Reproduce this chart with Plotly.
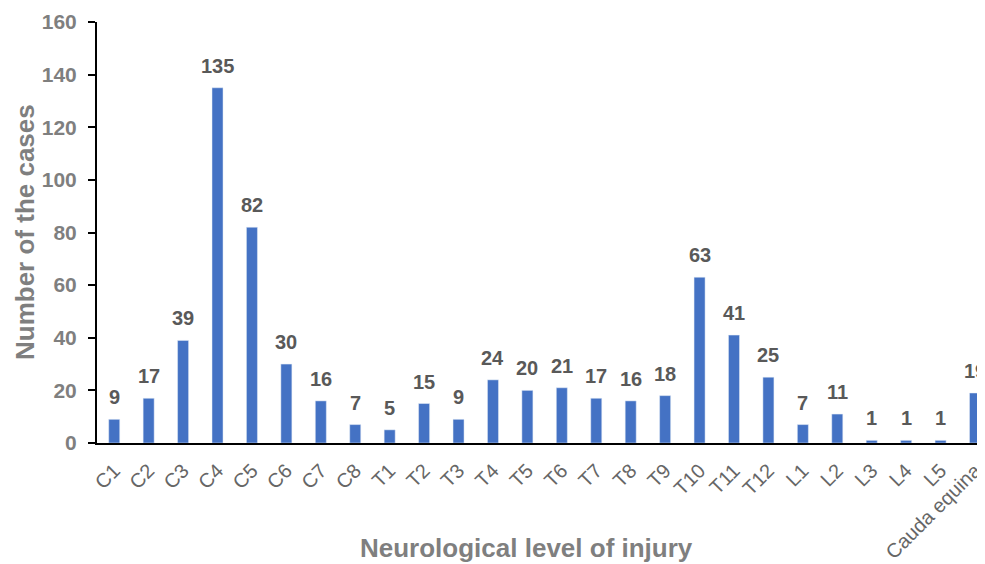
import plotly.graph_objects as go

categories = ["C1","C2","C3","C4","C5","C6","C7","C8","T1","T2","T3","T4","T5","T6","T7","T8","T9","T10","T11","T12","L1","L2","L3","L4","L5","Cauda equina"]
cases = [9,17,39,135,82,30,16,7,5,15,9,24,20,21,17,16,18,63,41,25,7,11,1,1,1,19]
y_ticks = [0,20,40,60,80,100,120,140,160]

# page body has an 8px margin; figure coords = page coords - 8
OFF = 8
W, H = 985 - OFF, 564 - OFF
ml, mr, mt = 97 - OFF, 0, 22 - OFF
ph = 421
mb = H - mt - ph
pw = W - ml - mr

xs = list(range(len(categories)))

fig = go.Figure(go.Bar(
    x=xs, y=cases,
    marker_color="#4472C4", width=0.32,
    cliponaxis=False,
))

value_labels = [
    dict(x=x, y=v, xref="x", yref="y", text=str(v), showarrow=False,
         xanchor="center", yanchor="bottom", yshift=9,
         font=dict(family="Liberation Sans", size=20, color="#595959", weight="bold"))
    for x, v in zip(xs, cases)
]

fig.update_layout(
    width=W, height=H,
    margin=dict(l=ml, r=mr, t=mt, b=mb),
    plot_bgcolor="white", paper_bgcolor="white",
    showlegend=False,
    font=dict(family="Liberation Sans"),
    xaxis=dict(
        tickmode="array", tickvals=xs, ticktext=categories,
        tickangle=-45, range=[-0.5, 25.29], automargin=False,
        tickfont=dict(size=20, color="#666666"), ticklabelstandoff=6,
        ticklabeloverflow="allow",
        showline=True, linecolor="black", linewidth=2, showgrid=False, ticks="",
    ),
    yaxis=dict(
        range=[0, 160], tickvals=y_ticks, automargin=False,
        tickfont=dict(size=21, color="#7f7f7f", weight="bold"), ticklabelstandoff=7,
        showline=True, linecolor="black", linewidth=2, showgrid=False,
        ticks="outside", ticklen=7, tickcolor="black", tickwidth=2, zeroline=False,
    ),
    annotations=value_labels + [
        dict(text="Number of the cases", textangle=-90, xref="paper", yref="paper",
             x=(25 - 97) / pw, y=(443 - 232) / ph, xanchor="center", yanchor="middle",
             showarrow=False, font=dict(size=26, color="#7f7f7f", weight="bold")),
        dict(text="Neurological level of injury", xref="paper", yref="paper",
             x=(526 - 97) / pw, y=(443 - 548) / ph, xanchor="center", yanchor="middle",
             showarrow=False, font=dict(size=26, color="#7f7f7f", weight="bold")),
    ],
)

fig.write_html("out.html")
